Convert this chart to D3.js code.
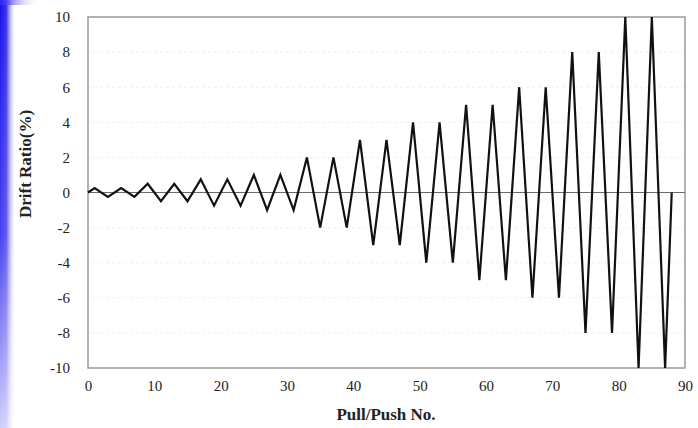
<!DOCTYPE html>
<html>
<head>
<meta charset="utf-8">
<script src="https://cdn.jsdelivr.net/npm/d3@7"></script>
<style>
  body { margin: 0; background: #fff; }
  svg { display: block; }
  .tick text { font-family: "Liberation Serif", "Times New Roman", serif; font-size: 15px; fill: #222; }
</style>
</head>
<body>
<svg id="figure"></svg>
<script>
var fullWidth = 698;
var fullHeight = 428;
var margin = {top: 17, right: 13, bottom: 60, left: 88};
var width = fullWidth - margin.left - margin.right;
var height = fullHeight - margin.top - margin.bottom;

// pull/push number and drift ratio (%) at each turning point
var pullPushNo = [0, 1, 3, 5, 7, 9, 11, 13, 15, 17, 19, 21, 23, 25, 27, 29, 31,
  33, 35, 37, 39, 41, 43, 45, 47, 49, 51, 53, 55, 57, 59, 61, 63,
  65, 67, 69, 71, 73, 75, 77, 79, 81, 83, 85, 87, 88];
var driftRatio = [0, 0.25, -0.25, 0.25, -0.25, 0.5, -0.5, 0.5, -0.5, 0.75, -0.75, 0.75, -0.75, 1, -1, 1, -1,
  2, -2, 2, -2, 3, -3, 3, -3, 4, -4, 4, -4, 5, -5, 5, -5,
  6, -6, 6, -6, 8, -8, 8, -8, 10, -10, 10, -10, 0];
var xTicks = [0, 10, 20, 30, 40, 50, 60, 70, 80, 90];
var yTicks = [-10, -8, -6, -4, -2, 0, 2, 4, 6, 8, 10];

var svg = d3.select("#figure").attr("width", fullWidth).attr("height", fullHeight);

// blue strip on the left edge of the scanned figure
var defs = svg.append("defs");
var grad = defs.append("linearGradient").attr("id", "edge").attr("x1", "0").attr("x2", "1").attr("y1", "0").attr("y2", "0");
grad.append("stop").attr("offset", "0%").attr("stop-color", "#1a12e8");
grad.append("stop").attr("offset", "40%").attr("stop-color", "#3a34ee");
grad.append("stop").attr("offset", "100%").attr("stop-color", "#ffffff").attr("stop-opacity", 0);
var fade = defs.append("linearGradient").attr("id", "fade").attr("x1", "0").attr("x2", "0").attr("y1", "0").attr("y2", "1");
fade.append("stop").attr("offset", "0%").attr("stop-color", "#fff").attr("stop-opacity", 0);
fade.append("stop").attr("offset", "55%").attr("stop-color", "#fff").attr("stop-opacity", 0.2);
fade.append("stop").attr("offset", "100%").attr("stop-color", "#fff").attr("stop-opacity", 0.8);
var topGrad = defs.append("linearGradient").attr("id", "topedge").attr("x1", "0").attr("x2", "1").attr("y1", "0").attr("y2", "0");
topGrad.append("stop").attr("offset", "0%").attr("stop-color", "#2a22ea");
topGrad.append("stop").attr("offset", "100%").attr("stop-color", "#ffffff").attr("stop-opacity", 0);

svg.append("rect").attr("x", 0).attr("y", 0).attr("width", 16).attr("height", fullHeight).attr("fill", "url(#edge)");
svg.append("rect").attr("x", 0).attr("y", 0).attr("width", 40).attr("height", 5).attr("fill", "url(#topedge)");
svg.append("rect").attr("x", 0).attr("y", 0).attr("width", 16).attr("height", fullHeight).attr("fill", "url(#fade)");

var g = svg.append("g").attr("transform", "translate(" + margin.left + "," + margin.top + ")");

var xRange = d3.scaleLinear().domain([0, 90]).range([0, width]);
var yRange = d3.scaleLinear().domain([-10, 10]).range([height, 0]);

// very faint dashed gridlines (barely visible in the scan)
g.append("g").selectAll("line").data(yTicks.filter(function (d) { return d != 0 && d != 10 && d != -10; }))
  .enter().append("line")
  .attr("x1", 0).attr("x2", width)
  .attr("y1", function (d) { return yRange(d); }).attr("y2", function (d) { return yRange(d); })
  .attr("stroke", "#f0f0f0").attr("stroke-dasharray", "3,3").attr("stroke-width", 1);

// plot frame
g.append("rect").attr("x", 0).attr("y", 0).attr("width", width).attr("height", height)
  .attr("fill", "none").attr("stroke", "#9a9a9a").attr("stroke-width", 1.5);

// zero line
g.append("line").attr("x1", 0).attr("x2", width).attr("y1", yRange(0)).attr("y2", yRange(0))
  .attr("stroke", "#6a6a6a").attr("stroke-width", 1.2);

var plainNum = function (d) { return String(d); };
var yAxis = d3.axisLeft(yRange).tickValues(yTicks).tickSize(0).tickPadding(18).tickFormat(plainNum);
var xAxis = d3.axisBottom(xRange).tickValues(xTicks).tickSize(0).tickPadding(12).tickFormat(plainNum);

var ya = g.append("g").call(yAxis);
ya.select(".domain").remove();
var xa = g.append("g").attr("transform", "translate(0," + height + ")").call(xAxis);
xa.select(".domain").remove();

var pts = pullPushNo.map(function (x, i) { return {x: x, y: driftRatio[i]}; });
var line = d3.line().x(function (d) { return xRange(d.x); }).y(function (d) { return yRange(d.y); });

g.append("path").attr("d", line(pts)).attr("fill", "none")
  .attr("stroke", "#111").attr("stroke-width", 2.2).attr("stroke-linejoin", "miter");

svg.append("text").text("Pull/Push No.")
  .attr("x", 386).attr("y", 420).attr("text-anchor", "middle")
  .attr("font-family", "Liberation Serif, Times New Roman, serif").attr("font-weight", "bold").attr("font-size", 17).attr("fill", "#222");
svg.append("text").text("Drift Ratio(%)")
  .attr("transform", "translate(31,164) rotate(-90)").attr("text-anchor", "middle")
  .attr("font-family", "Liberation Serif, Times New Roman, serif").attr("font-weight", "bold").attr("font-size", 17).attr("fill", "#222");
</script>
</body>
</html>
